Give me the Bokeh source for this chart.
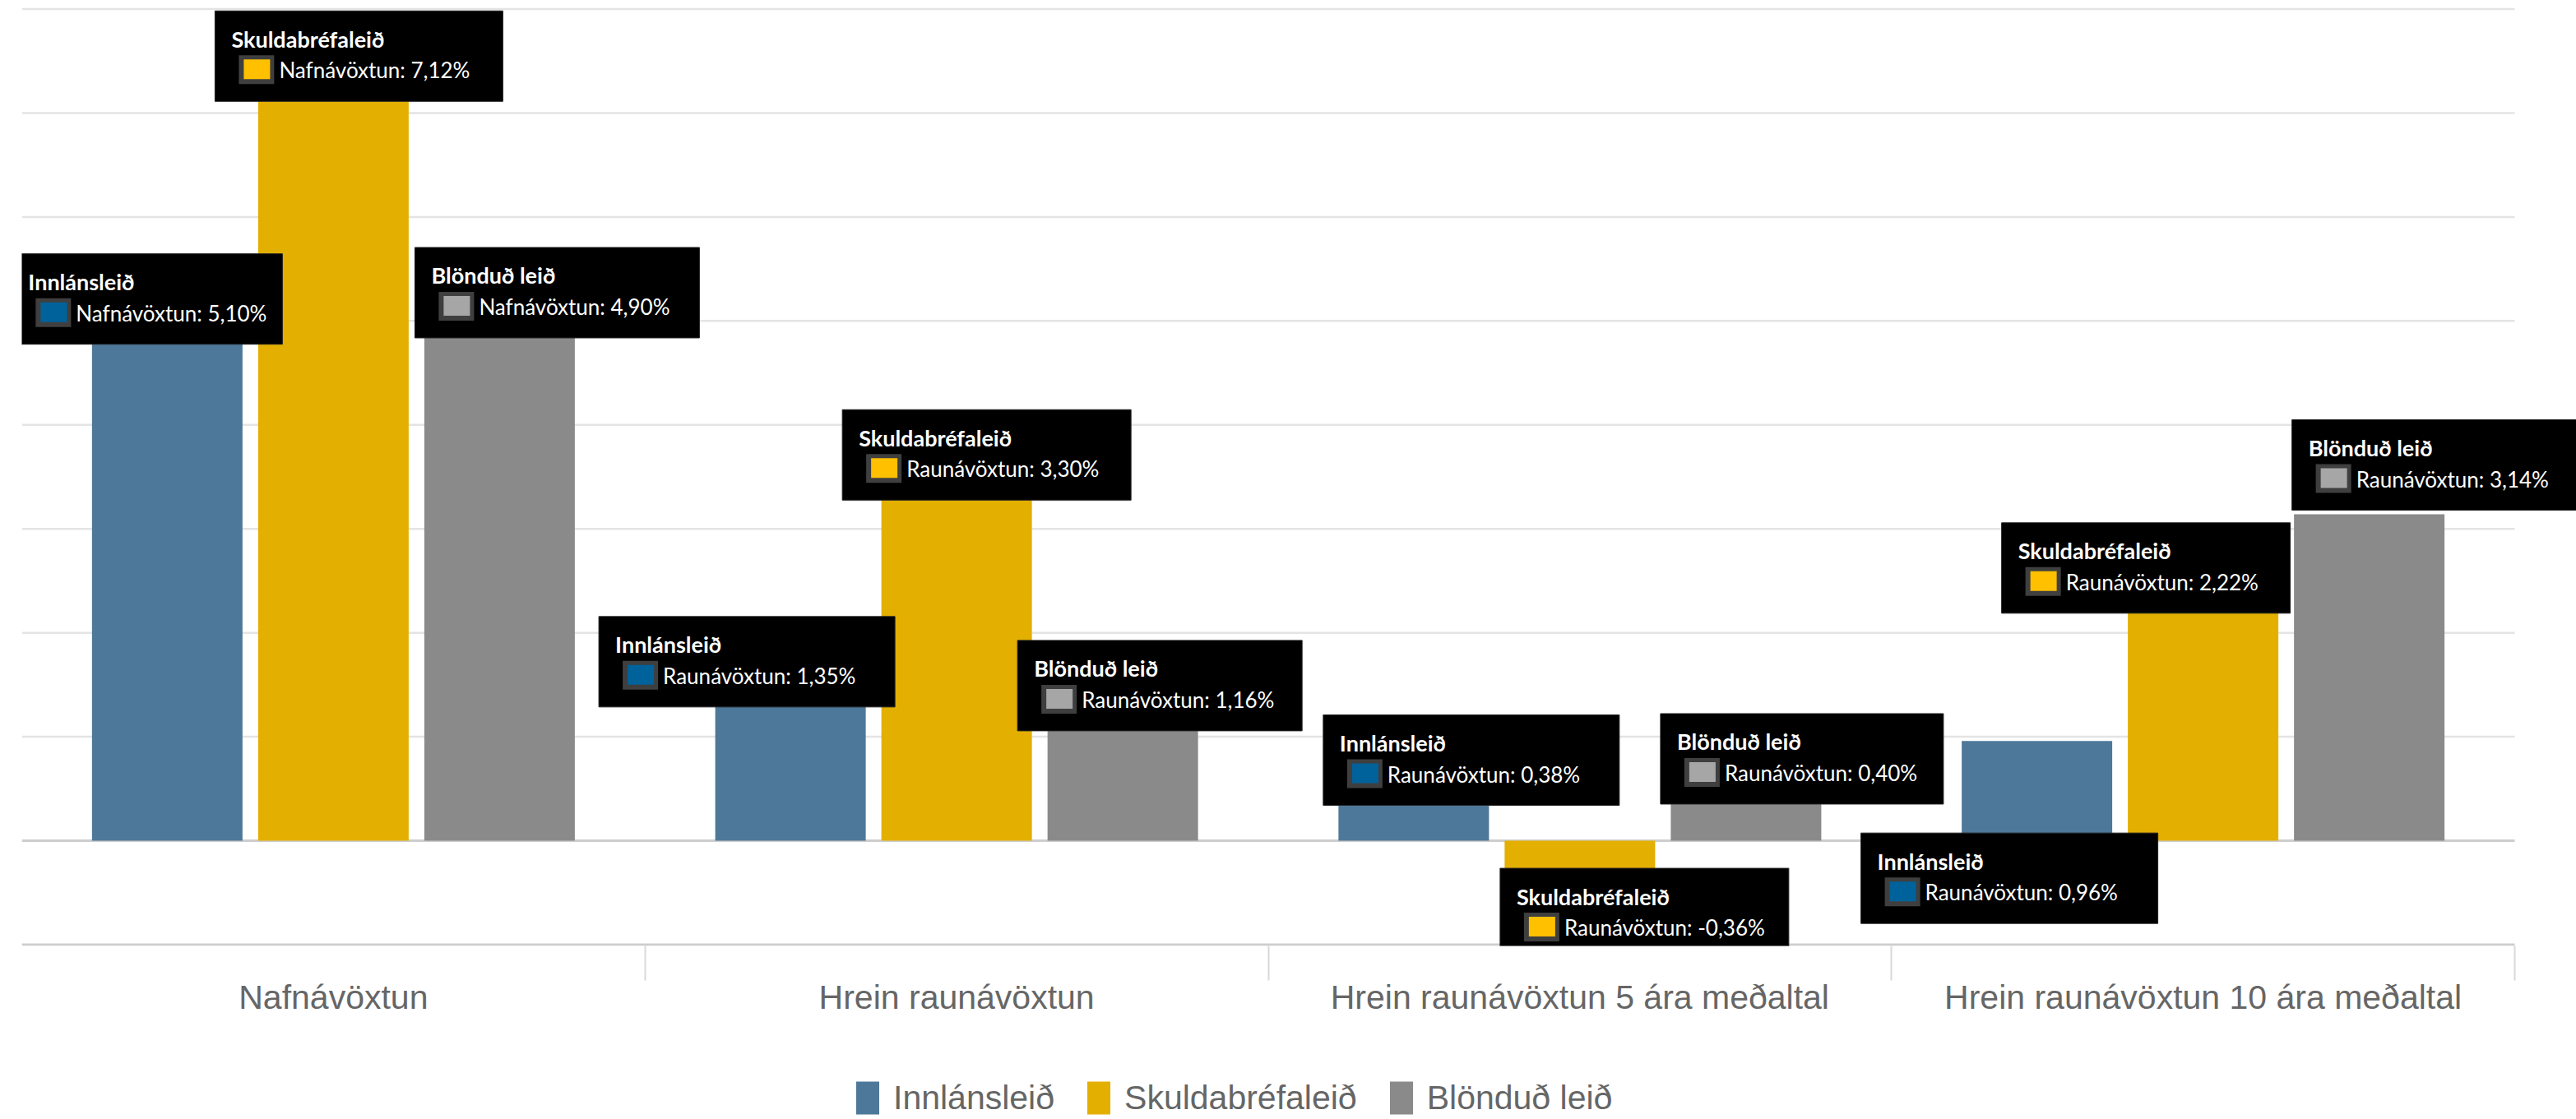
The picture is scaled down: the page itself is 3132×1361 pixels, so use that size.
from bokeh.plotting import figure
from bokeh.layouts import column
from bokeh.models import Range1d, LinearAxis, FixedTicker, Legend, LegendItem, ColumnDataSource
from bokeh.embed import file_html
from bokeh.resources import INLINE
from bokeh.core.properties import value

# ---------------- data ----------------
categories = ["Nafnávöxtun", "Hrein raunávöxtun",
              "Hrein raunávöxtun 5 ára meðaltal", "Hrein raunávöxtun 10 ára meðaltal"]
series_names = ["Innlánsleið", "Skuldabréfaleið", "Blönduð leið"]
innlansleid = [5.10, 1.35, 0.38, 0.96]
skuldabrefaleid = [7.12, 3.30, -0.36, 2.22]
blondud_leid = [4.90, 1.16, 0.40, 3.14]
tooltip_metric = ["Nafnávöxtun", "Raunávöxtun", "Raunávöxtun", "Raunávöxtun"]
grid_levels = [-1, 0, 1, 2, 3, 4, 5, 6, 7, 8]

series_values = [innlansleid, skuldabrefaleid, blondud_leid]

# ---------------- styles / layout ----------------
bar_colors = ["#4E7899", "#E3AF00", "#8A8A8B"]
swatch_colors = ["#00629B", "#FFC000", "#A6A6A6"]
series_offset = [-0.2666, 0.0, 0.2666]
BAR_W = 0.2415

W = 3132
H_MAIN = 1250
H_LEG = 110
LEFT = 26
FRAME_BOTTOM = 1150
CAT_PX = 757.75
FRAME_W = W - LEFT
X1 = FRAME_W / CAT_PX
Y1 = 8 + 10.5 / 126.5
Y0 = -1 - 1.5 / 126.5
PXX = CAT_PX
PXY = FRAME_BOTTOM / (Y1 - Y0)

# tooltip placement (px): box left relative to bar centre, box bottom below bar end, box width
TIP_DX = [[-189, -233, -110, -214], [-144, -139, -97, -245], [-103, -128, -104, -94]]
TIP_DY = [[41, 8, 5, 222], [1, 3, 98, 4], [8, 13, 6, -5]]
TIP_W = [[329, 360, 360, 361], [350, 351, 351, 351], [346, 346, 344, 346]]
TIP_H = 110

p = figure(width=W, height=H_MAIN, x_range=Range1d(0, X1), y_range=Range1d(Y0, Y1),
           output_backend="svg", toolbar_location=None,
           x_axis_location=None, y_axis_location=None,
           min_border_left=LEFT, min_border_right=0, min_border_top=0,
           min_border_bottom=H_MAIN - FRAME_BOTTOM, outline_line_color=None,
           background_fill_color="white", border_fill_color="white")
for g in p.grid:
    g.visible = False

ncat = len(categories)
light = [lv for lv in grid_levels if lv > 0]
dark = [lv for lv in grid_levels if lv <= 0]
p.segment(x0=[0] * len(light), x1=[ncat] * len(light), y0=light, y1=light,
          line_color="#E4E4E4", line_width=2.5)
p.segment(x0=[0] * len(dark), x1=[ncat] * len(dark), y0=dark, y1=dark,
          line_color="#CDCDCD", line_width=3)

ax = LinearAxis(
    ticker=FixedTicker(ticks=[i + 0.5 for i in range(ncat)],
                       minor_ticks=[i + 1 for i in range(ncat)]),
    major_label_overrides={i + 0.5: c for i, c in enumerate(categories)},
    axis_line_color=None, major_tick_line_color=None,
    major_tick_out=0, major_tick_in=0,
    minor_tick_out=42, minor_tick_in=0,
    minor_tick_line_color="#D9D9D9", minor_tick_line_width=2,
    major_label_standoff=-3,
    major_label_text_font="Liberation Sans",
    major_label_text_font_size="41px",
    major_label_text_color="#666666",
)
p.add_layout(ax, "below")

for s, vals in enumerate(series_values):
    xs = [i + 0.5 + series_offset[s] for i in range(ncat)]
    src = ColumnDataSource(dict(x=xs, top=vals))
    p.vbar(x="x", top="top", bottom=0, width=BAR_W, source=src,
           fill_color=bar_colors[s], line_color=None)

# tooltips
for s, vals in enumerate(series_values):
    for c in range(ncat):
        xc = c + 0.5 + series_offset[s]
        v = vals[c]
        left = xc + TIP_DX[s][c] / PXX
        right = left + TIP_W[s][c] / PXX
        bottom = v - TIP_DY[s][c] / PXY
        top = bottom + TIP_H / PXY
        p.quad(left=[left], right=[right], bottom=[bottom], top=[top],
               fill_color="black", line_color="#222222", line_width=1)
        p.rect(x=[left + 50.5 / PXX], y=[top - 71.5 / PXY], width=43, height=35,
               width_units="screen", height_units="screen",
               fill_color="#3F3F3F", line_color=None)
        p.rect(x=[left + 51 / PXX], y=[top - 71 / PXY], width=32, height=24,
               width_units="screen", height_units="screen",
               fill_color=swatch_colors[s], line_color=None)
        p.text(x=[left], y=[top], text=[series_names[s]], x_offset=20, y_offset=34,
               text_font=value("Lato"), text_font_style="bold", text_font_size="27px",
               text_color="white", text_baseline="alphabetic", text_align="left")
        label = f"{tooltip_metric[c]}: {v:.2f}".replace(".", ",") + "%"
        p.text(x=[left], y=[top], text=[label], x_offset=78, y_offset=72,
               text_font=value("Lato"), text_font_size="26px",
               text_color="white", text_baseline="alphabetic", text_align="left")

# legend strip below the chart (its key renderers sit outside the visible range)
p2 = figure(width=W, height=H_LEG, x_range=Range1d(0, 1), y_range=Range1d(0, 1),
            output_backend="svg", toolbar_location=None,
            x_axis_location=None, y_axis_location=None,
            min_border_left=0, min_border_right=0, min_border_top=0, min_border_bottom=0,
            outline_line_color=None, background_fill_color="white", border_fill_color="white")
for g in p2.grid:
    g.visible = False
leg_renderers = []
for s in range(len(series_names)):
    r = p2.vbar(x=[-10], top=[-10], bottom=[-11], width=0.1,
                fill_color=bar_colors[s], line_color=None)
    leg_renderers.append(r)

legend = Legend(
    items=[LegendItem(label=n, renderers=[r]) for n, r in zip(series_names, leg_renderers)],
    orientation="horizontal", location=(1011, 0),
    glyph_width=35, glyph_height=50, label_standoff=14, spacing=36,
    padding=0, margin=0, border_line_color=None, background_fill_alpha=0,
    label_text_font="Liberation Sans", label_text_font_size="41px",
    label_text_color="#666666",
)
p2.add_layout(legend)

layout = column(p, p2, spacing=0)
open("out.html", "w").write(file_html(layout, INLINE))
